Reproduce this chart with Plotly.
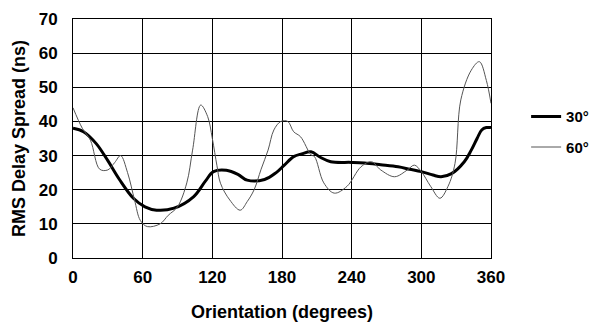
import plotly.graph_objects as go

# 30° series (thick)
deg30 = [0, 9, 20, 30, 40, 52, 62, 72, 87, 104, 114, 121, 132, 142, 150, 165, 175, 182, 190, 197, 205, 213, 222, 240, 251, 265, 280, 290, 300, 310, 317, 326, 337, 343, 348, 352, 356, 360]
val30 = [38, 37, 33.5, 28.5, 23, 17.5, 15, 14, 14.6, 18, 22.5, 25.3, 25.7, 24.5, 22.8, 23, 25, 27.2, 29.7, 30.5, 31.1, 29.5, 28.2, 28, 27.8, 27.3, 26.7, 26, 25.3, 24.3, 23.8, 24.7, 28.2, 31.6, 35, 37.5, 38.2, 38.2]

# 60° series (thin)
deg60 = [0, 8, 15, 23, 30, 36, 41, 47, 53, 58, 64, 75, 82, 90, 98, 103, 110, 116, 120, 124, 127, 135, 144, 150, 156, 162, 168, 173, 179, 185, 190, 196, 205, 208, 216, 225, 236, 248, 257, 265, 277, 288, 294, 300, 308, 316, 323, 329, 334, 343, 350, 356, 360]
val60 = [44, 38, 34.5, 26, 25.8, 28, 30, 25, 17, 11, 9.2, 10, 12.5, 15, 22, 31.6, 44.8, 41.4, 35, 27, 21.9, 17, 14, 16.5, 20, 26, 31.6, 37.5, 40, 40, 37, 35.5, 30.2, 29.7, 22, 19, 21, 26.7, 28.2, 25.8, 23.8, 25.8, 27.2, 25.3, 21, 17.5, 21, 27.7, 46.3, 55, 57.5, 52, 45.3]

x_ticks = [0, 60, 120, 180, 240, 300, 360]
y_ticks = [0, 10, 20, 30, 40, 50, 60, 70]

font_family = "Liberation Sans, Arial, sans-serif"

fig = go.Figure()
fig.add_trace(go.Scatter(x=deg30, y=val30, mode="lines", name="<b>30°</b>",
                         line=dict(color="black", width=3, shape="spline"),
                         legendgroup="a"))
fig.add_trace(go.Scatter(x=deg60, y=val60, mode="lines", name="<b>60°</b>",
                         line=dict(color="#555555", width=1, shape="spline"),
                         legendgroup="b"))

fig.update_layout(
    width=590, height=316,
    margin=dict(l=65, r=107, t=11, b=66, autoexpand=False),
    paper_bgcolor="white", plot_bgcolor="white",
    font=dict(family=font_family, color="black", size=16),
    legend=dict(x=1.084, y=0.66, xanchor="left", yanchor="top",
                font=dict(size=15, family=font_family, color="black"),
                tracegroupgap=8, bgcolor="rgba(0,0,0,0)"),
    xaxis=dict(range=[0, 360], tickvals=x_ticks, ticktext=[str(v) for v in x_ticks],
               showgrid=True, gridcolor="black", gridwidth=1,
               showline=True, linecolor="black", linewidth=1, mirror=True,
               zeroline=False, ticks="", ticklen=0, ticklabelstandoff=4,
               tickfont=dict(size=17, family=font_family, weight="bold"),
               title=dict(text="<b>Orientation (degrees)</b>", font=dict(size=18), standoff=18)),
    yaxis=dict(range=[0, 70], tickvals=y_ticks, ticktext=[str(v) for v in y_ticks],
               showgrid=True, gridcolor="black", gridwidth=1,
               showline=True, linecolor="black", linewidth=1, mirror=True,
               zeroline=False, ticks="", ticklen=0, ticklabelstandoff=11,
               tickfont=dict(size=17, family=font_family, weight="bold"),
               title=dict(text="<b>RMS Delay Spread (ns)</b>", font=dict(size=18), standoff=8)),
)

fig.write_html("out.html")
